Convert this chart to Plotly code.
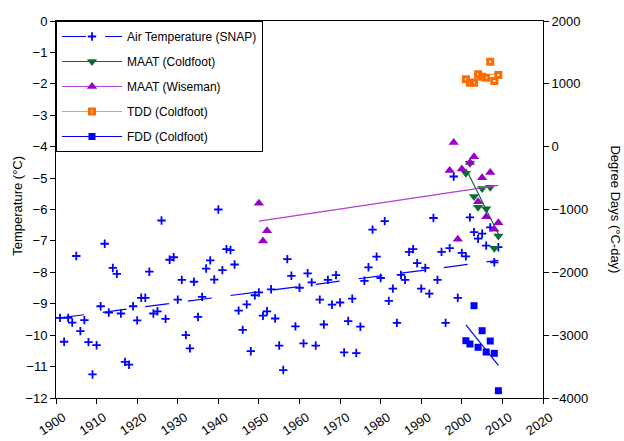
import plotly.graph_objects as go

# ---------------- data ----------------
snap_years = list(range(1901, 2010))
snap_temp = [
    -9.45, -10.21, -9.45, -9.60, -7.48, -9.87, -9.52, -10.22, -11.25, -10.32,
    -9.08, -7.09, -9.28, -7.86, -8.05, -9.31, -10.85, -10.94, -9.08, -9.53,
    -8.81, -8.81, -7.98, -9.31, -9.24, -6.35, -9.48, -7.60, -7.52, -8.87,
    -8.24, -10.00, -10.42, -8.30, -9.42, -8.78, -7.88, -7.62, -8.23, -6.00,
    -7.93, -7.26, -7.29, -7.75, -9.22, -9.83, -9.02, -10.51, -8.73, -8.64,
    -9.38, -9.24, -8.54, -9.47, -10.33, -11.11, -7.58, -8.11, -9.72, -8.49,
    -10.26, -8.03, -8.32, -10.33, -8.87, -9.66, -8.24, -9.03, -8.09, -8.96,
    -10.55, -9.55, -8.84, -10.57, -9.73, -8.27, -7.84, -6.64, -7.50, -8.18,
    -6.37, -8.91, -8.52, -9.61, -8.08, -8.24, -7.35, -7.26, -7.71, -8.52,
    -7.86, -8.68, -6.27, -8.24, -7.35, -9.61, -7.23, -4.95, -8.81, -7.38,
    -7.49, -6.25, -6.72, -6.93, -6.77, -7.15, -6.57, -7.68, -7.20,
]
snap_trend_years = [1901, 2009]
snap_trend_vals = [-9.45, -7.62]

coldfoot_years = [2001, 2002, 2003, 2004, 2005, 2006, 2007, 2008, 2009]
coldfoot_maat = [-4.85, -4.53, -5.59, -5.93, -5.33, -5.98, -5.29, -7.23, -6.84]
coldfoot_trend_years = [2001, 2009]
coldfoot_trend_vals = [-4.70, -6.78]

wiseman_years = [1950, 1951, 1952, 1997, 1998, 1999, 2000, 2002, 2003,
                 2004, 2005, 2006, 2007, 2008, 2009]
wiseman_maat = [-5.80, -7.00, -6.68, -4.76, -3.87, -6.95, -4.71, -4.50, -4.32,
                -5.75, -4.99, -6.23, -4.82, -6.63, -6.42]
wiseman_trend_years = [1950, 2009]
wiseman_trend_vals = [-6.37, -5.23]

tdd_vals = [1072, 1018, 1018, 1152, 1114, 1098, 1352, 1045, 1141]
tdd_trend_vals = [1047, 1177]
fdd_vals = [-3088, -3141, -2531, -3193, -2929, -3268, -3093, -3289, -3884]
fdd_trend_vals = [-2835, -3479]

x_ticks = list(range(1900, 2021, 10))

# ---------------- styles ----------------
BLUE = "#0000FF"
GREEN = "#0B6B35"
PURPLE = "#9A00C8"
PURPLE_LINE = "#B040D0"
ORANGE = "#FF6A00"
ORANGE_LINE = "#FF9A40"
FONT = "Liberation Sans, Arial, sans-serif"

fig = go.Figure()

def add_series(name, xs, ys, marker, tx, ty, line, yaxis="y"):
    fig.add_trace(go.Scatter(x=tx, y=ty, mode="lines", line=line, yaxis=yaxis,
                             showlegend=False, hoverinfo="skip"))
    fig.add_trace(go.Scatter(x=xs, y=ys, mode="markers", marker=marker, yaxis=yaxis,
                             showlegend=False))
    # legend entry
    fig.add_trace(go.Scatter(x=[None], y=[None], mode="lines+markers", name=name,
                             marker=marker, line=line, yaxis=yaxis,
                             legendgroup=name))

add_series("Air Temperature (SNAP)", snap_years, snap_temp,
           dict(symbol="cross-thin", size=6, line=dict(color=BLUE, width=1.8), color=BLUE),
           snap_trend_years, snap_trend_vals,
           dict(color=BLUE, width=1.2, dash="24px,19px"))
add_series("MAAT (Coldfoot)", coldfoot_years, coldfoot_maat,
           dict(symbol="triangle-down", size=9, color=GREEN),
           coldfoot_trend_years, coldfoot_trend_vals,
           dict(color=GREEN, width=1.2))
add_series("MAAT (Wiseman)", wiseman_years, wiseman_maat,
           dict(symbol="triangle-up", size=9, color=PURPLE),
           wiseman_trend_years, wiseman_trend_vals,
           dict(color=PURPLE_LINE, width=1.2))
add_series("TDD (Coldfoot)", coldfoot_years, tdd_vals,
           dict(symbol="square-open", size=5, line=dict(color=ORANGE, width=3), color=ORANGE),
           coldfoot_trend_years, tdd_trend_vals,
           dict(color=ORANGE_LINE, width=1.2), yaxis="y2")
add_series("FDD (Coldfoot)", coldfoot_years, fdd_vals,
           dict(symbol="square", size=7, color=BLUE),
           coldfoot_trend_years, fdd_trend_vals,
           dict(color=BLUE, width=1.2), yaxis="y2")

axis_common = dict(showline=True, linecolor="black", linewidth=1, ticks="outside",
                   ticklen=5, tickcolor="black", showgrid=False, zeroline=False,
                   automargin=False,
                   tickfont=dict(family=FONT, size=13, color="black"))

fig.update_layout(
    width=624, height=441,
    margin=dict(l=56, r=81, t=21, b=43),
    paper_bgcolor="white", plot_bgcolor="white",
    font=dict(family=FONT, size=12, color="black"),
    xaxis=dict(range=[1900, 2020], tickvals=x_ticks, tickangle=-34,
               mirror=True, ticklabelshift=7, ticklabelstandoff=1, **axis_common),
    yaxis=dict(range=[-12, 0], dtick=1, **axis_common),
    yaxis2=dict(range=[-4000, 2000], dtick=1000, overlaying="y", side="right",
                **axis_common),
    legend=dict(x=0, y=1, xanchor="left", yanchor="top", bgcolor="white",
                bordercolor="black", borderwidth=1, itemwidth=60,
                tracegroupgap=6, font=dict(family=FONT, size=12, color="black")),
    showlegend=True,
    annotations=[
        dict(text="Temperature (°C)", xref="paper", yref="paper", x=-0.078, y=0.51,
             xanchor="center", yanchor="middle", textangle=-90, showarrow=False,
             font=dict(family=FONT, size=13, color="black")),
        dict(text="Degree Days (°C-day)", xref="paper", yref="paper", x=1.148, y=0.5,
             xanchor="center", yanchor="middle", textangle=90, showarrow=False,
             font=dict(family=FONT, size=13, color="black")),
    ],
)

fig.write_html("out.html")
